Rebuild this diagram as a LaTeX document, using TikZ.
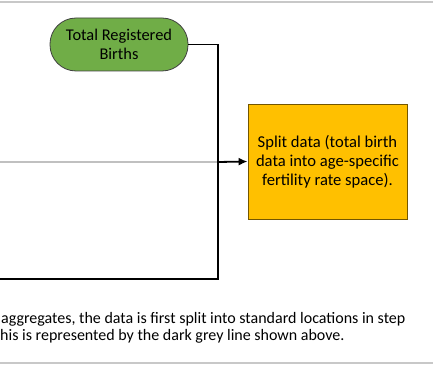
\documentclass[tikz,border=0pt]{standalone}
\usepackage{fontspec}
\setmainfont{Carlito}
\usetikzlibrary{arrows.meta}
\definecolor{pillgreen}{HTML}{70AD47}
\definecolor{boxyellow}{HTML}{FFC000}
\definecolor{rulegray}{HTML}{C8C8C8}
\definecolor{linegray}{HTML}{C0C0C0}
\tikzset{
  pill/.style={draw=black!75, fill=pillgreen, line width=0.8pt, rounded corners=26pt,
    minimum width=138pt, minimum height=53pt, align=center, inner sep=1pt,
    font=\fontsize{16.4}{19}\selectfont},
  splitbox/.style={draw=black!55!boxyellow, fill=boxyellow, line width=0.8pt,
    minimum width=159pt, minimum height=115pt, align=center, inner sep=1pt,
    font=\fontsize{16.6}{19}\selectfont},
  conn/.style={draw=black, line width=1.8pt},
  grayconn/.style={draw=linegray, line width=2.2pt},
  rule/.style={draw=rulegray, line width=2pt},
  body/.style={anchor=base west, inner sep=0pt, font=\fontsize{16}{16}\selectfont}
}
\begin{document}
\begin{tikzpicture}[x=1pt,y=-1pt]
\useasboundingbox (0,0) rectangle (433,366);
\begin{scope}
\clip (0,0) rectangle (433,366);
\coordinate (rtl) at (0,2);
\coordinate (rtr) at (433,2);
\coordinate (rbl) at (0,363);
\coordinate (rbr) at (433,363);
\draw[rule] (rtl) -- (rtr);
\draw[rule] (rbl) -- (rbr);

\node[pill] (births) at (119,44.5) {Total Registered\\Births};
\node[splitbox] (split) at (327.5,161.5) {Split data (total birth\\data into age-specific\\fertility rate space).};

\coordinate (j) at (218,162);
\coordinate (corner) at (218,279);
\coordinate (leftend) at (-2,279);
\coordinate (grayleft) at (-2,162);

\draw[grayconn] (grayleft) -- (j);
\draw[conn] (births.east) -| (corner) -- (leftend);
\draw[conn, -{Latex[length=9pt,width=8pt]}] (j) -- (split.west);

\node[body] (t1) at (1,323.5) {aggregates, the data is first split into standard locations in step};
\node[body] (t2) at (0,340) {his is represented by the dark grey line shown above.};
\end{scope}
\end{tikzpicture}
\end{document}
